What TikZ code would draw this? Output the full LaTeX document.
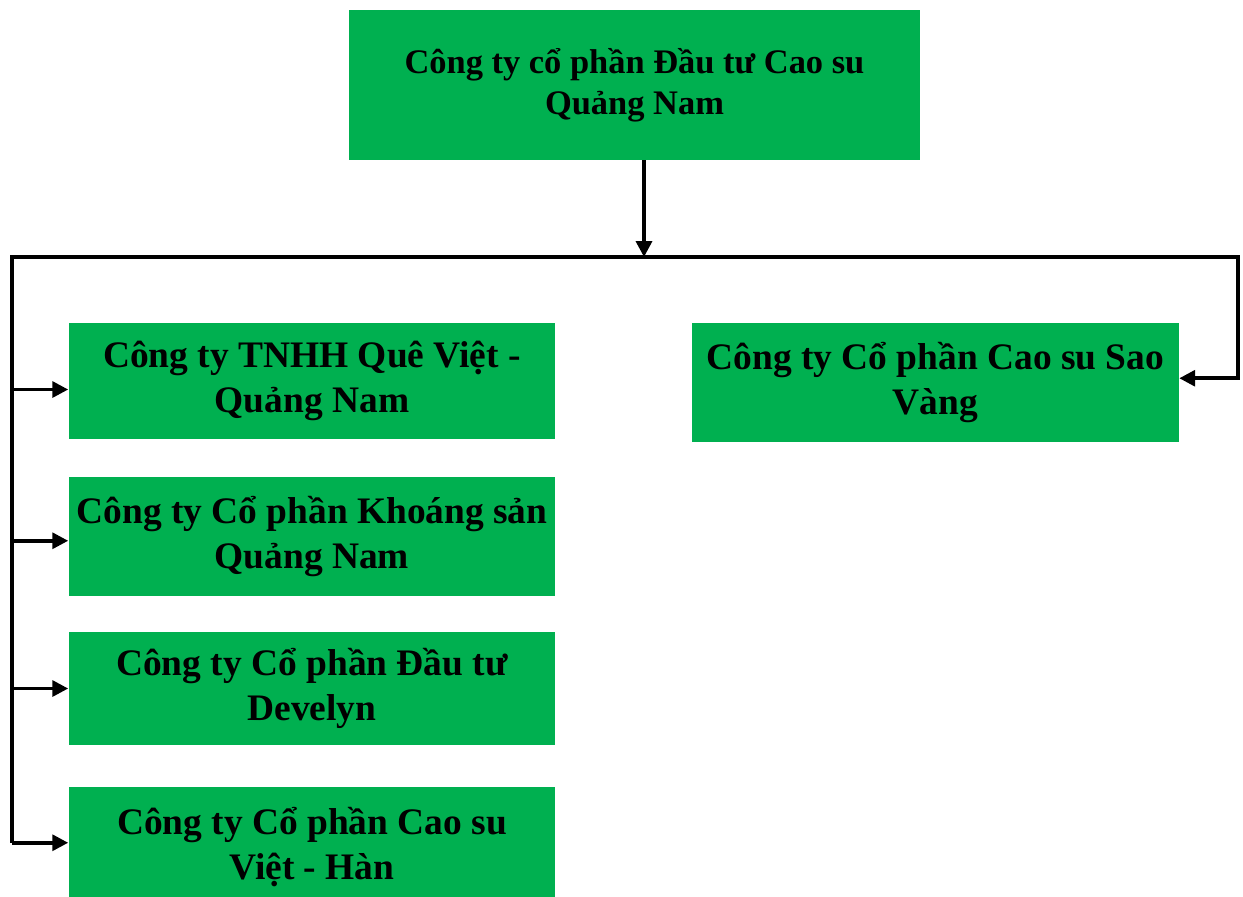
\documentclass[tikz,border=0pt]{standalone}
\usepackage{fontspec}
\setmainfont{Liberation Serif}
\usetikzlibrary{arrows.meta,positioning}
\definecolor{boxgreen}{RGB}{0,176,80}

\begin{document}
\begin{tikzpicture}[
  x=0.02cm, y=-0.02cm, >=Triangle,
  parent/.style={rectangle, fill=boxgreen, inner sep=0pt, align=center, font=\bfseries\fontsize{19.6}{23.5}\selectfont, minimum width=11.42cm, minimum height=3.0cm},
  unit/.style={rectangle, fill=boxgreen, inner sep=0pt, align=center, font=\bfseries\fontsize{21.3}{26}\selectfont, minimum width=9.74cm, minimum height=2.36cm},
  wire/.style={draw, black, line width=2pt},
  link/.style={wire, -{Triangle[length=9pt, width=9pt]}}
]
  \useasboundingbox (0,0) rectangle (1243,896);

  % ==================== PARENT COMPANY ====================
  \node[parent] (qn) at (634.5, 85) {Công ty cổ phần Đầu tư Cao su\\ Quảng Nam};

  % ==================== SUBSIDIARIES (left column) ====================
  \node[unit, minimum height=2.32cm] (qv) at (312, 381) {Công ty TNHH Quê Việt -\\ Quảng Nam};
  \node[unit, minimum height=2.38cm] (ks) at (312, 536.5) {Công ty Cổ phần Khoáng sản\\ Quảng Nam};
  \node[unit, minimum height=2.26cm] (dv) at (312, 688.5) {Công ty Cổ phần Đầu tư\\ Develyn};
  \node[unit, minimum height=2.4cm] (vh) at (312, 847) {Công ty Cổ phần Cao su\\ Việt - Hàn};

  % ==================== SUBSIDIARY (right) ====================
  \node[unit, minimum height=2.38cm] (sv) at (935.5, 382.5) {Công ty Cổ phần Cao su Sao\\ Vàng};

  % Bus line
  \coordinate (split) at (644, 257);
  \coordinate (busL) at (12, 257);
  \coordinate (busR) at (1238, 257);

  \draw[link] (qn.south -| split) -- (split);
  \draw[link] (busL |- vh.179) -- (busL) -- (busR) |- (sv.1.2);

  % Branches to the left column
  \draw[link] (busL |- qv.182) -- (qv.182);
  \draw[link] (busL |- ks.181) -- (ks.181);
  \draw[link] (busL |- dv.west) -- (dv.west);
  \draw[link] (busL |- vh.179) -- (vh.179);

\end{tikzpicture}
\end{document}
